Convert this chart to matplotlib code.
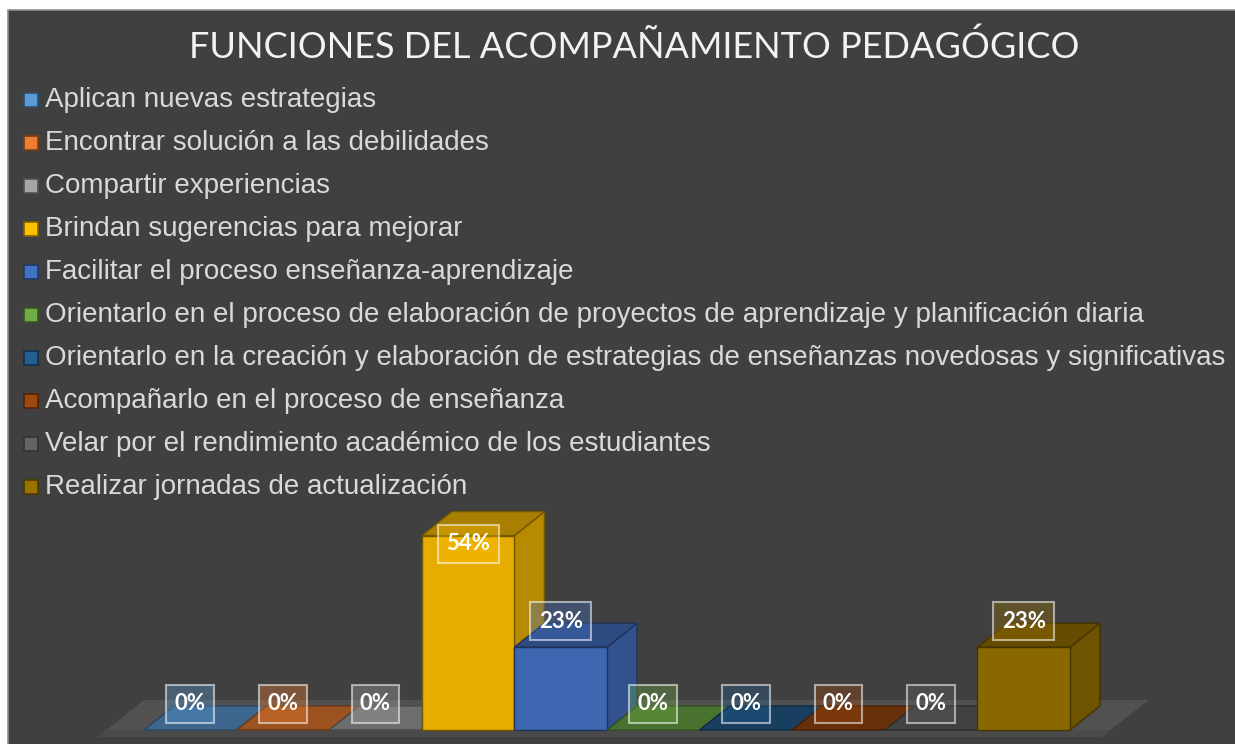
import matplotlib
matplotlib.use('Agg')
import matplotlib.pyplot as plt
from matplotlib.patches import Polygon, Rectangle
from matplotlib.colors import to_rgb
import numpy as np

title = 'FUNCIONES DEL ACOMPAÑAMIENTO PEDAGÓGICO'
categories = [
    'Aplican nuevas estrategias',
    'Encontrar solución a las debilidades',
    'Compartir experiencias',
    'Brindan sugerencias para mejorar',
    'Facilitar el proceso enseñanza-aprendizaje',
    'Orientarlo en el proceso de elaboración de proyectos de aprendizaje y planificación diaria',
    'Orientarlo en la creación y elaboración de estrategias de enseñanzas novedosas y significativas',
    'Acompañarlo en el proceso de enseñanza',
    'Velar por el rendimiento académico de los estudiantes',
    'Realizar jornadas de actualización',
]
values = [0, 0, 0, 54, 23, 0, 0, 0, 0, 23]
colors = ['#5B9BD5', '#ED7D31', '#A5A5A5', '#FFC000', '#4472C4',
          '#70AD47', '#255E91', '#9E480E', '#636363', '#997300']


def shade(c, f):
    r, g, b = to_rgb(c)
    return (r * f, g * f, b * f)


W, H = 1235, 744
fig = plt.figure(figsize=(W / 100, H / 100), dpi=100)
fig.patch.set_facecolor('white')
# dark chart area
fig.patches.append(Rectangle((8 / W, -0.01), 1.0, 1.01 - 10 / H, transform=fig.transFigure,
                             facecolor='#404040', edgecolor='#8f8f8f', lw=1.2, zorder=-5))

# plot area, pixel scale: 92.6 px per bar, 3.6 px per percent
unit_px, pct_px = 92.6, 3.6
ax = fig.add_axes([90 / W, 0, 1070 / W, 239 / H])
ax.set_zorder(2)
x_left = -0.5 - (144 - 90) / unit_px
y_bot = -(744 - 730) / pct_px
ax.set_xlim(x_left, x_left + 1070 / unit_px)
ax.set_ylim(y_bot, y_bot + 239 / pct_px)
ax.axis('off')
ax.patch.set_alpha(0)

n = len(values)
dx = 30 / unit_px
dy = 24 / pct_px

# floor
fy0, fy1 = -7 / pct_px, 30 / pct_px
floor = Polygon([(-1.0, fy0), (n - 0.5 + 0.34, fy0), (n - 0.5 + 0.85, fy1), (-0.5, fy1)],
                closed=True, facecolor='#515151', edgecolor='none', zorder=1)
ax.add_patch(floor)
ax.add_patch(Polygon([(-1.0, fy0), (n - 0.5 + 0.34, fy0), (n - 0.5 + 0.34 + 0.09, 0), (-1.0 + 0.09, 0)],
                     closed=True, facecolor='#4a4a4a', edgecolor='none', zorder=1))

for i, (v, c) in enumerate(zip(values, colors)):
    x0, x1 = i - 0.5, i + 0.5
    z = 2 + 3 * i
    edge = shade(c, 0.45)
    top = Polygon([(x0, v), (x1, v), (x1 + dx, v + dy), (x0 + dx, v + dy)], closed=True,
                  facecolor=shade(c, 0.66), edgecolor=edge, lw=1, zorder=z + 1)
    if v > 0:
        side = Polygon([(x1, 0), (x1 + dx, dy), (x1 + dx, v + dy), (x1, v)], closed=True,
                       facecolor=shade(c, 0.72), edgecolor=edge, lw=1, zorder=z)
        ax.add_patch(side)
        ax.bar(i, v, width=1, color=shade(c, 0.9), edgecolor=edge, lw=1, zorder=z + 2)
    ax.add_patch(top)

# data labels
lab_off, lab_cap = 26 / pct_px, (730 - 544) / pct_px
for i, (v, c) in enumerate(zip(values, colors)):
    r, g, b = to_rgb(c)
    ax.text(i, min(v + lab_off, lab_cap), f'{v}%', ha='center', va='center',
            fontsize=16, fontweight='bold', color='white', family='Lato', zorder=100,
            bbox=dict(boxstyle='square,pad=0.38', fc=(r, g, b, 0.35), ec=(1, 1, 1, 0.55), lw=1.5))

# legend
for k, (lab, c) in enumerate(zip(categories, colors)):
    yc = 100 + k * 43
    fig.patches.append(Rectangle((24 / W, 1 - (yc + 7) / H), 14 / W, 14 / H, transform=fig.transFigure,
                                 facecolor=c, edgecolor=shade(c, 0.5), lw=1.2, zorder=3))
    fig.text(45 / W, 1 - yc / H, lab, ha='left', va='center', fontsize=20.0,
             color='#d9d9d9', family='Liberation Sans')

fig.text(634 / W, 1 - 47 / H, title, ha='center', va='center', fontsize=26,
         color='#f2f2f2', family='Lato')

plt.savefig('out.png', dpi=100)
